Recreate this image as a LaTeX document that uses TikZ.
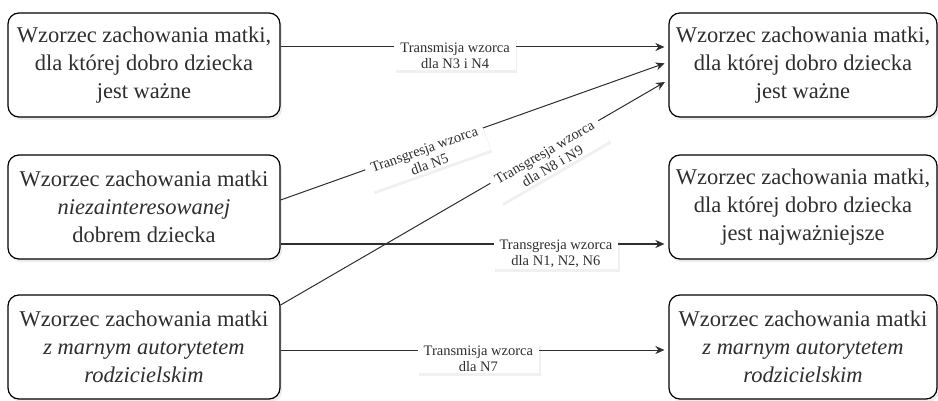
\documentclass[tikz,border=0pt]{standalone}
\usepackage{fontspec}
\setmainfont{Liberation Serif}
\usetikzlibrary{arrows.meta,shadows}
\definecolor{ciemny}{HTML}{2E2E2E}

\begin{document}
\begin{tikzpicture}[x=1pt,y=-1pt,
    wzorzec/.style={draw=black, line width=1.2pt, rounded corners=11pt, fill=white,
      minimum height=104pt, align=center, text=ciemny,
      font=\fontsize{22.5}{28}\selectfont,
      drop shadow={opacity=.15, shadow xshift=2pt, shadow yshift=-3pt}},
    etykieta/.style={fill=white, align=center, text=ciemny,
      font=\fontsize{14.5}{16}\selectfont, inner xsep=6pt, inner ysep=2pt,
      drop shadow={opacity=.12, shadow xshift=1.5pt, shadow yshift=-2.5pt}},
    strzalka/.style={draw=ciemny, line width=1pt, shorten >=4pt,
      -{Stealth[length=9pt,width=8pt]}}]
    \useasboundingbox (0,0) rectangle (938,401);

\node[wzorzec, minimum width=272pt] (l1) at (144,65)
    {Wzorzec zachowania matki,\\dla której dobro dziecka\\jest ważne};
\node[wzorzec, minimum width=272pt] (l2) at (144,207)
    {Wzorzec zachowania matki\\\textit{niezainteresowanej}\\dobrem dziecka};
\node[wzorzec, minimum width=272pt] (l3) at (144,347)
    {Wzorzec zachowania matki\\\textit{z marnym autorytetem}\\\textit{rodzicielskim}};

\node[wzorzec, minimum width=268pt] (r1) at (803,65)
    {Wzorzec zachowania matki,\\dla której dobro dziecka\\jest ważne};
\node[wzorzec, minimum width=268pt] (r2) at (803,207)
    {Wzorzec zachowania matki,\\dla której dobro dziecka\\jest najważniejsze};
\node[wzorzec, minimum width=268pt] (r3) at (803,347)
    {Wzorzec zachowania matki\\\textit{z marnym autorytetem}\\\textit{rodzicielskim}};

% transmisja
\draw[strzalka] ([yshift=18pt]l1.east) -- node[etykieta, pos=.45, below=-7pt]
    {Transmisja wzorca\\dla N3 i N4} ([yshift=18pt]r1.west);
\draw[strzalka] ([yshift=-3pt]l3.east) -- node[etykieta, pos=.51, below=-7pt]
    {Transmisja wzorca\\dla N7} ([yshift=-3pt]r3.west);

% transgresja
\draw[strzalka] ([yshift=7pt]l2.east) -- node[etykieta, pos=.37, sloped, below=-7pt]
    {Transgresja wzorca\\dla N5} ([yshift=3pt]r1.west);
\draw[strzalka] ([yshift=42pt]l3.east) -- node[etykieta, pos=.68, sloped, below=-7pt]
    {Transgresja wzorca\\dla N8 i N9} ([yshift=-15pt]r1.west);
\draw[strzalka] ([yshift=-37pt]l2.east) -- node[etykieta, pos=.71, below=-7pt]
    {Transgresja wzorca\\dla N1, N2, N6} ([yshift=-37pt]r2.west);
\end{tikzpicture}
\end{document}
